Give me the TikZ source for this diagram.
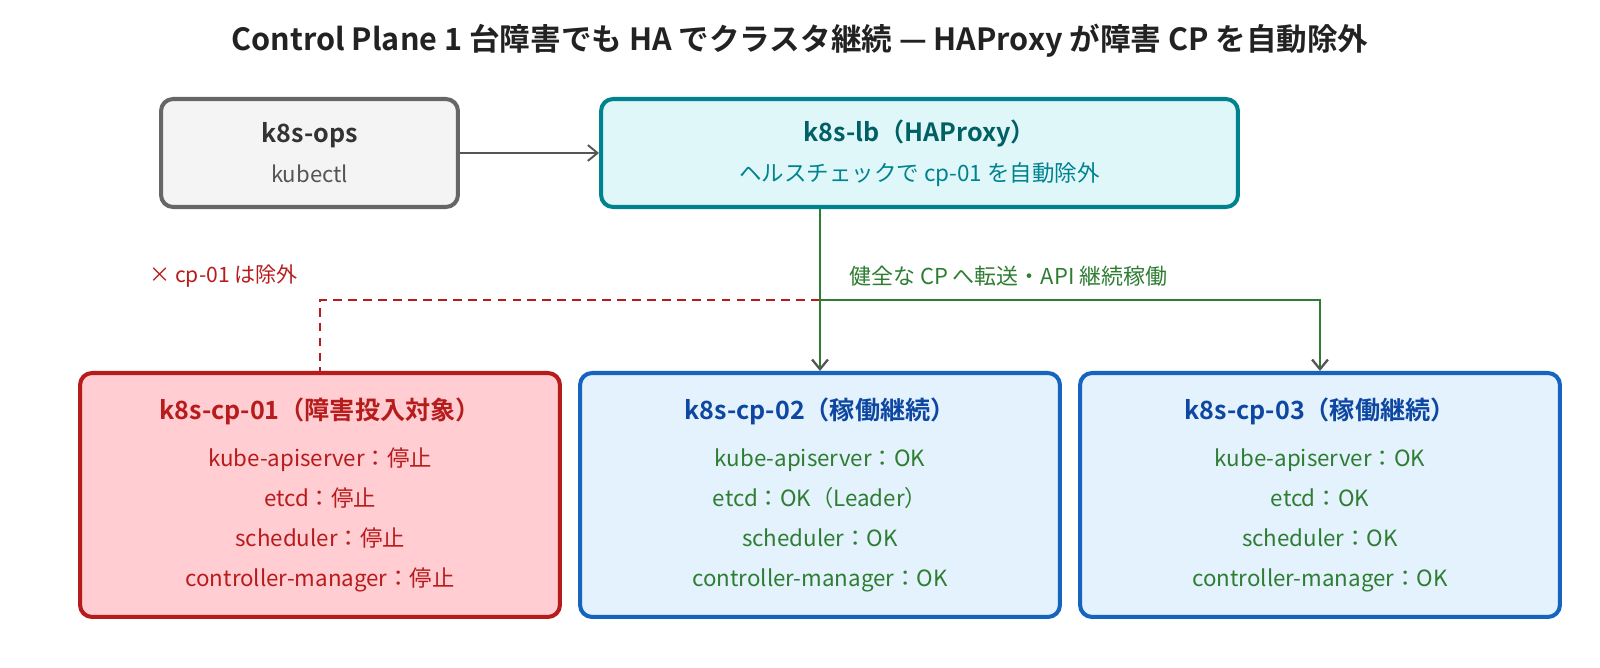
\documentclass[tikz,border=0pt]{standalone}
\usepackage{fontspec}
\setmainfont{Noto Sans CJK JP}[BoldFont={Noto Sans CJK JP Bold}]
\usetikzlibrary{arrows.meta,positioning}
\definecolor{OpsFill}{HTML}{F4F4F4}
\definecolor{OpsLine}{HTML}{666666}
\definecolor{OpsText}{HTML}{333333}
\definecolor{OpsSub}{HTML}{555555}
\definecolor{LbFill}{HTML}{E0F7FA}
\definecolor{LbLine}{HTML}{00838F}
\definecolor{LbText}{HTML}{006064}
\definecolor{BadFill}{HTML}{FFCDD2}
\definecolor{BadLine}{HTML}{B71C1C}
\definecolor{BadText}{HTML}{B71C1C}
\definecolor{OkFill}{HTML}{E3F2FD}
\definecolor{OkLine}{HTML}{1565C0}
\definecolor{OkTitle}{HTML}{0D47A1}
\definecolor{OkText}{HTML}{2E7D32}
\definecolor{ArrowGrey}{HTML}{555555}
\definecolor{TitleText}{HTML}{222222}
\newcommand{\boxhead}{\fontsize{14.3pt}{16pt}\selectfont\bfseries}

\begin{document}
\begin{tikzpicture}[x=0.02cm,y=-0.02cm,
    box/.style={draw,rounded corners=0.24cm,line width=2.3pt,align=center,inner sep=0pt},
    opsbox/.style={box,draw=OpsLine,fill=OpsFill,text=OpsSub,minimum width=5.94cm,minimum height=2.16cm,font=\fontsize{12.6pt}{22.8pt}\selectfont},
    lbbox/.style={box,draw=LbLine,fill=LbFill,text=LbLine,minimum width=12.74cm,minimum height=2.16cm,font=\fontsize{12.8pt}{22.8pt}\selectfont},
    cpbad/.style={box,draw=BadLine,fill=BadFill,text=BadText,minimum width=9.6cm,minimum height=4.88cm,font=\fontsize{12.7pt}{22.8pt}\selectfont},
    cpok/.style={box,draw=OkLine,fill=OkFill,text=OkText,minimum width=9.6cm,minimum height=4.88cm,font=\fontsize{12.7pt}{22.8pt}\selectfont},
    lbl/.style={font=\fontsize{12.5pt}{14pt}\selectfont,inner sep=0pt},
    greyarrow/.style={draw=ArrowGrey,line width=1.1pt,-{Straight Barb[length=5.5pt,width=9pt]}},
    okline/.style={draw=OkText,line width=1.3pt},
    okarrow/.style={okline,-{Straight Barb[length=5.5pt,width=9pt,color=ArrowGrey]}},
    downline/.style={draw=BadLine,line width=1.5pt,dash pattern=on 5pt off 3.5pt}]
  \useasboundingbox (0,0) rectangle (1600,668);

  % title
  \node[font=\fontsize{17.4pt}{20pt}\selectfont\bfseries,text=TitleText] (title) at (800,41)
    {Control Plane 1 台障害でも HA でクラスタ継続 — HAProxy が障害 CP を自動除外};

  % client and load balancer
  \node[opsbox] (ops) at (309.5,153)
    {{\boxhead\color{OpsText}k8s-ops}\\[0pt]kubectl};
  \node[lbbox] (lb) at (919.5,153)
    {{\boxhead\color{LbText}k8s-lb（HAProxy）}\\[0pt]ヘルスチェックで cp-01 を自動除外};

  % control plane nodes
  \node[cpbad] (cp1) at (320,495)
    {{\boxhead k8s-cp-01（障害投入対象）}\\[4pt]
     kube-apiserver：停止\\etcd：停止\\scheduler：停止\\controller-manager：停止};
  \node[cpok] (cp2) at (820,495)
    {{\boxhead\color{OkTitle}k8s-cp-02（稼働継続）}\\[4pt]
     kube-apiserver：OK\\etcd：OK（Leader）\\scheduler：OK\\controller-manager：OK};
  \node[cpok] (cp3) at (1320,495)
    {{\boxhead\color{OkTitle}k8s-cp-03（稼働継続）}\\[4pt]
     kube-apiserver：OK\\etcd：OK\\scheduler：OK\\controller-manager：OK};

  % connectors
  \coordinate (fork) at (820,300);
  \draw[greyarrow] (ops) -- (lb);
  \draw[downline] (fork) -| (cp1.north);
  \draw[okarrow] (cp2.north |- lb.south) -- (cp2.north);
  \draw[okarrow] (fork) -| (cp3.north);

  % labels on the links
  \node[lbl,text=OkText,anchor=west] (fwd) at (849,276) {健全な CP へ転送・API 継続稼働};
  \node[lbl,text=BadLine,anchor=west,font=\fontsize{12pt}{14pt}\selectfont] (drop) at (149,276) {× cp-01 は除外};
\end{tikzpicture}
\end{document}
